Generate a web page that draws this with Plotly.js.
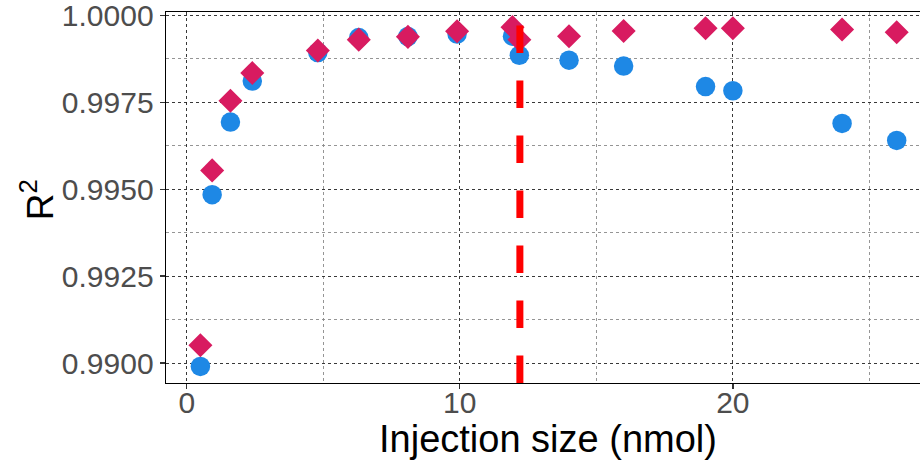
<!DOCTYPE html>
<html>
<head>
<meta charset="utf-8">
<script src="https://cdn.plot.ly/plotly-3.0.1.min.js"></script>
<style>
html, body { margin: 0; padding: 0; overflow: hidden; background: #fff; width: 920px; height: 464px; }
#chart { width: 924px; height: 464px; }
</style>
</head>
<body>
<div id="chart"></div>
<script>
// Data
const injectionSize = [0.5, 0.93, 1.6, 2.4, 4.8, 6.3, 8.1, 9.9, 11.93, 12.18, 14, 16, 19, 20, 24, 26];
const r2Circle = [0.98990, 0.99484, 0.99693, 0.99811, 0.99893, 0.99936, 0.99939, 0.99946, 0.99940, 0.99885, 0.99871, 0.99854, 0.99795, 0.99783, 0.99689, 0.99640];
const r2Diamond = [0.99051, 0.99554, 0.99754, 0.99834, 0.99899, 0.99930, 0.99938, 0.99954, 0.99966, 0.99930, 0.99940, 0.99955, 0.99963, 0.99963, 0.99959, 0.99951];
const cutoffX = 12.2;
const cutoffTop = 0.99978;
const yTickVals = [0.9900, 0.9925, 0.9950, 0.9975, 1.0000];
const xTickVals = [0, 10, 20];
const xTitle = 'Injection size (nmol)';
const yTitle = 'R<sup>2</sup>';

const FONT = 'Liberation Sans, Arial, Helvetica, sans-serif';

const traces = [
  {
    x: injectionSize, y: r2Circle, type: 'scatter', mode: 'markers',
    marker: { symbol: 'circle', size: 19.5, color: '#1E88E5', line: { width: 0 } },
    showlegend: false, hoverinfo: 'x+y'
  },
  {
    x: injectionSize, y: r2Diamond, type: 'scatter', mode: 'markers',
    marker: { symbol: 'diamond', size: 18.5, color: '#D81B60', line: { width: 0 } },
    showlegend: false, hoverinfo: 'x+y'
  }
];

const yMin = 0.989425, yMax = 1.000095;

const layout = {
  width: 924, height: 464,
  margin: { l: 166, r: 0, t: 12, b: 81, pad: 0 },
  paper_bgcolor: '#ffffff', plot_bgcolor: '#ffffff',
  font: { family: FONT, color: '#4D4D4D' },
  showlegend: false,
  xaxis: {
    range: [-0.76, 27.0],
    tickvals: xTickVals, ticktext: xTickVals.map(String),
    ticks: 'outside', ticklen: 5, tickwidth: 1.3, tickcolor: '#333333',
    tickfont: { family: FONT, size: 30, color: '#4D4D4D' },
    ticklabelstandoff: -12, ticklabeloverflow: 'allow',
    showline: true, linecolor: '#000000', linewidth: 1.4, mirror: true,
    showgrid: true, gridcolor: '#222222', gridwidth: 0.9, griddash: 'dot',
    minor: { tickvals: [5, 15, 25], showgrid: true, gridcolor: '#8a8a8a', gridwidth: 0.9, griddash: 'dot', ticks: '' },
    zeroline: false
  },
  yaxis: {
    range: [yMin, yMax],
    tickvals: yTickVals, ticktext: yTickVals.map(v => v.toFixed(4)),
    ticks: 'outside', ticklen: 5, tickwidth: 1.3, tickcolor: '#333333',
    tickfont: { family: FONT, size: 30, color: '#4D4D4D' },
    ticklabeloverflow: 'allow',
    showline: true, linecolor: '#000000', linewidth: 1.4, mirror: true,
    showgrid: true, gridcolor: '#222222', gridwidth: 0.9, griddash: 'dot',
    minor: { tickvals: [0.99125, 0.99375, 0.99625, 0.99875], showgrid: true, gridcolor: '#8a8a8a', gridwidth: 0.9, griddash: 'dot', ticks: '' },
    zeroline: false
  },
  annotations: [
    {
      text: xTitle, xref: 'paper', yref: 'paper', x: 0.504, y: -0.1496,
      xanchor: 'center', yanchor: 'middle', showarrow: false,
      font: { family: FONT, size: 38, color: '#000000' }
    },
    {
      text: yTitle, xref: 'paper', yref: 'paper', x: -0.17, y: 0.493,
      xanchor: 'center', yanchor: 'middle', showarrow: false, textangle: -90,
      font: { family: FONT, size: 37, color: '#000000' }
    }
  ],
  shapes: [
    {
      type: 'line', xref: 'x', yref: 'y',
      x0: cutoffX, x1: cutoffX, y0: yMin, y1: cutoffTop,
      line: { color: '#FF0000', width: 7, dash: '27.5px,27.5px' },
      layer: 'above'
    }
  ]
};

Plotly.newPlot('chart', traces, layout, { displayModeBar: false, staticPlot: true });
</script>
</body>
</html>
